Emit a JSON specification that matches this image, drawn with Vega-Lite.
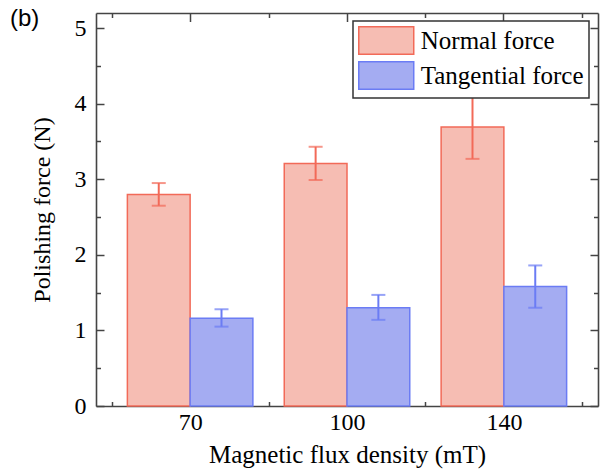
{
  "$schema": "https://vega.github.io/schema/vega-lite/v6.json",
  "width": 502,
  "height": 393,
  "autosize": "none",
  "padding": {"left": 96, "top": 13, "right": 8, "bottom": 64},
  "background": "white",
  "title": {
    "text": "(b)",
    "anchor": "start",
    "orient": "top",
    "frame": "group",
    "font": "Liberation Sans",
    "fontSize": 24,
    "fontWeight": "normal",
    "color": "black",
    "baseline": "alphabetic",
    "offset": 0,
    "dx": -86,
    "dy": 38
  },
  "config": {
    "view": {"stroke": null},
    "axis": {
      "labelFont": "Liberation Serif",
      "titleFont": "Liberation Serif",
      "labelColor": "black",
      "titleColor": "black",
      "titleFontWeight": "normal",
      "domainColor": "#444444",
      "domainWidth": 1.6,
      "tickColor": "#444444",
      "tickWidth": 1.5,
      "grid": false
    },
    "legend": {
      "labelFont": "Liberation Serif",
      "labelColor": "black"
    }
  },
  "data": {
    "values": [
      {"flux": "70", "force": "Normal force", "value": 2.80, "lo": 2.65, "hi": 2.95},
      {"flux": "70", "force": "Tangential force", "value": 1.16, "lo": 1.05, "hi": 1.28},
      {"flux": "100", "force": "Normal force", "value": 3.21, "lo": 2.99, "hi": 3.43},
      {"flux": "100", "force": "Tangential force", "value": 1.30, "lo": 1.14, "hi": 1.47},
      {"flux": "140", "force": "Normal force", "value": 3.69, "lo": 3.27, "hi": 4.10},
      {"flux": "140", "force": "Tangential force", "value": 1.58, "lo": 1.30, "hi": 1.86}
    ]
  },
  "encoding": {
    "x": {
      "field": "flux",
      "type": "nominal",
      "sort": ["70", "100", "140"],
      "scale": {"paddingInner": 0, "paddingOuter": 0.1}
    },
    "xOffset": {
      "field": "force",
      "type": "nominal",
      "sort": ["Normal force", "Tangential force"],
      "scale": {"paddingInner": 0, "paddingOuter": 0.25}
    }
  },
  "layer": [
    {
      "mark": {"type": "bar", "strokeWidth": 1.5},
      "encoding": {
        "x": {
          "field": "flux",
          "type": "nominal",
          "sort": ["70", "100", "140"],
          "axis": {
            "orient": "bottom",
            "title": "Magnetic flux density (mT)",
            "titleFontSize": 25,
            "titlePadding": 8,
            "labelFontSize": 24,
            "labelAngle": 0,
            "labelPadding": 9,
            "tickBand": "extent",
            "tickSize": -4.5
          }
        },
        "y": {
          "field": "value",
          "type": "quantitative",
          "scale": {"domain": [0, 5.2], "nice": false, "zero": true},
          "axis": {
            "orient": "left",
            "title": "Polishing force (N)",
            "titleFontSize": 24,
            "titlePadding": 20,
            "labelFontSize": 24,
            "labelPadding": 18,
            "values": [0, 0.5, 1, 1.5, 2, 2.5, 3, 3.5, 4, 4.5, 5],
            "labelExpr": "datum.value % 1 === 0 ? '' + datum.value : ''",
            "tickSize": {"condition": {"test": "datum.value % 1 === 0", "value": -8}, "value": -4.5}
          }
        },
        "fill": {
          "field": "force",
          "type": "nominal",
          "sort": ["Normal force", "Tangential force"],
          "scale": {"range": ["#f6bdb3", "#a4acf2"]},
          "legend": {
            "title": null,
            "orient": "none",
            "legendX": 257,
            "legendY": 8,
            "fillColor": "white",
            "strokeColor": "#333333",
            "padding": 5,
            "labelFontSize": 25,
            "labelOffset": 20,
            "labelLimit": 400,
            "rowPadding": 0,
            "symbolType": "M-2,-1H2V1H-2Z",
            "symbolSize": 756,
            "symbolOffset": 13.75,
            "symbolStrokeWidth": 1.5,
            "symbolOpacity": 1,
            "encode": {
              "symbols": {"update": {"stroke": {"scale": "stroke", "field": "value"}}},
              "legend": {"update": {"strokeWidth": {"value": 1.5}}}
            }
          }
        },
        "stroke": {
          "field": "force",
          "type": "nominal",
          "sort": ["Normal force", "Tangential force"],
          "scale": {"range": ["#f26a58", "#6b7cf4"]},
          "legend": null
        }
      }
    },
    {
      "mark": {"type": "rule", "strokeWidth": 2},
      "encoding": {
        "x": {
          "field": "flux",
          "type": "nominal",
          "sort": ["70", "100", "140"],
          "axis": {
            "orient": "top",
            "title": null,
            "labels": false,
            "tickBand": "extent",
            "tickSize": -4.5
          }
        },
        "y": {
          "field": "lo",
          "type": "quantitative",
          "axis": {
            "orient": "right",
            "title": null,
            "labels": false,
            "values": [0, 0.5, 1, 1.5, 2, 2.5, 3, 3.5, 4, 4.5, 5],
            "tickSize": {"condition": {"test": "datum.value % 1 === 0", "value": -8}, "value": -4.5}
          }
        },
        "y2": {"field": "hi"},
        "color": {
          "field": "force",
          "type": "nominal",
          "sort": ["Normal force", "Tangential force"],
          "scale": {"range": ["#f26a58", "#6b7cf4"]},
          "legend": null
        }
      }
    },
    {
      "mark": {"type": "tick", "orient": "horizontal", "thickness": 2, "size": 14},
      "encoding": {
        "x": {
          "field": "flux",
          "type": "nominal",
          "sort": ["70", "100", "140"],
          "axis": {
            "orient": "top",
            "title": null,
            "labels": false,
            "domain": false,
            "tickSize": -8.5
          }
        },
        "y": {"field": "lo", "type": "quantitative", "axis": null},
        "color": {
          "field": "force",
          "type": "nominal",
          "sort": ["Normal force", "Tangential force"],
          "legend": null
        }
      }
    },
    {
      "mark": {"type": "tick", "orient": "horizontal", "thickness": 2, "size": 14},
      "encoding": {
        "x": {"field": "flux", "type": "nominal", "sort": ["70", "100", "140"], "axis": null},
        "y": {"field": "hi", "type": "quantitative", "axis": null},
        "color": {
          "field": "force",
          "type": "nominal",
          "sort": ["Normal force", "Tangential force"],
          "legend": null
        }
      }
    }
  ],
  "resolve": {"axis": {"x": "independent", "y": "independent"}}
}
